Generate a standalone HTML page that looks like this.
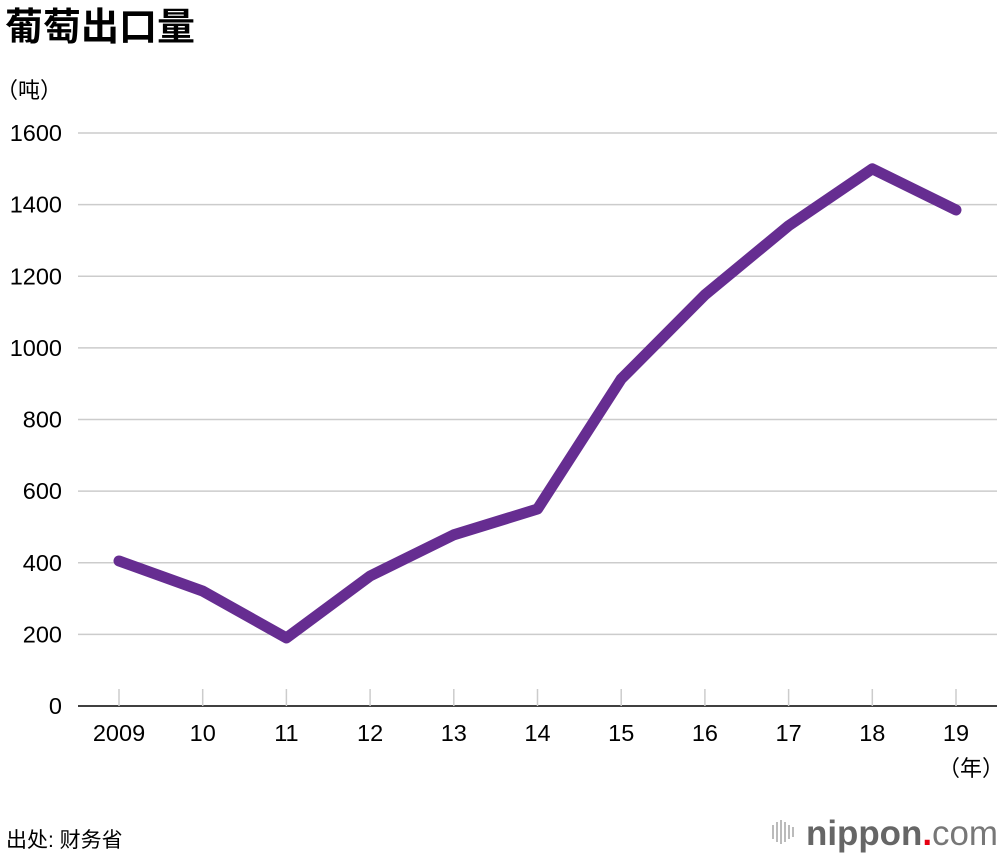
<!DOCTYPE html>
<html><head><meta charset="utf-8"><style>
body{margin:0;background:#fff;width:1000px;height:856px;overflow:hidden;font-family:"Liberation Sans","Noto Sans CJK SC",sans-serif}
</style></head><body>
<svg width="1000" height="856" font-family="Liberation Sans, Noto Sans CJK SC, sans-serif">
<text x="5" y="40" font-size="38" font-weight="bold">葡萄出口量</text>
<text x="-4" y="98" font-size="22">（吨）</text>
<g id="grid"></g><g id="xaxis"></g>
<path id="line" fill="none" stroke="#662d91" stroke-width="11" stroke-linejoin="round" stroke-linecap="round"/>
<text x="1004" y="776" font-size="22" text-anchor="end">（年）</text>
<text x="6" y="847" font-size="21">出处: 财务省</text>
<g>
<g fill="#bbb"><rect x="772" y="825" width="2" height="14"/><rect x="776" y="822" width="2" height="20"/><rect x="780" y="820" width="2" height="24"/><rect x="784" y="822" width="2" height="20"/><rect x="788" y="825" width="2" height="14"/><rect x="792" y="827" width="2" height="10"/></g>
<text x="806" y="845" font-size="35" font-weight="bold" fill="#666" textLength="192" lengthAdjust="spacingAndGlyphs">nippon<tspan fill="#e60012">.</tspan><tspan font-weight="normal" fill="#777">com</tspan></text>
</g>
</svg>
<script>
const years=["2009","10","11","12","13","14","15","16","17","18","19"];
const values=[405,321,190,363,478,550,913,1148,1341,1500,1385];
const yTicks=[0,200,400,600,800,1000,1200,1400,1600];
const ns="http://www.w3.org/2000/svg";
const x0=119,x1=956,yB=706,yT=133,yMax=1600;
const xs=i=>x0+i*(x1-x0)/(years.length-1);
const ys=v=>yB-v/yMax*(yB-yT);
const g=document.getElementById('grid'),xa=document.getElementById('xaxis');
yTicks.forEach(t=>{
 if(t>0){const l=document.createElementNS(ns,'line');
 l.setAttribute('x1',78);l.setAttribute('x2',997);l.setAttribute('y1',ys(t));l.setAttribute('y2',ys(t));
 l.setAttribute('stroke','#ccc');l.setAttribute('stroke-width','1.5');
 
 g.appendChild(l);}
 const tx=document.createElementNS(ns,'text');
 tx.setAttribute('x',62);tx.setAttribute('y',ys(t)+8);tx.setAttribute('text-anchor','end');tx.setAttribute('font-size','23.5');
 tx.textContent=t;
 
 g.appendChild(tx);
});
const ax=document.createElementNS(ns,'line');
ax.setAttribute('x1',78);ax.setAttribute('x2',997);ax.setAttribute('y1',yB);ax.setAttribute('y2',yB);ax.setAttribute('stroke','#000');ax.setAttribute('stroke-width','1.5');

xa.appendChild(ax);
years.forEach((y,i)=>{
 const tk=document.createElementNS(ns,'line');
 tk.setAttribute('x1',xs(i));tk.setAttribute('x2',xs(i));tk.setAttribute('y1',689);tk.setAttribute('y2',706);tk.setAttribute('stroke','#ccc');tk.setAttribute('stroke-width','1.5');
 
 xa.appendChild(tk);
 const tx=document.createElementNS(ns,'text');
 tx.setAttribute('x',xs(i));tx.setAttribute('y',741);tx.setAttribute('text-anchor','middle');tx.setAttribute('font-size','23.5');
 tx.textContent=y;
 
 xa.appendChild(tx);
});
document.getElementById('line').setAttribute('d',values.map((v,i)=>(i?'L':'M')+xs(i)+','+ys(v)).join(''));
</script>
</body></html>
